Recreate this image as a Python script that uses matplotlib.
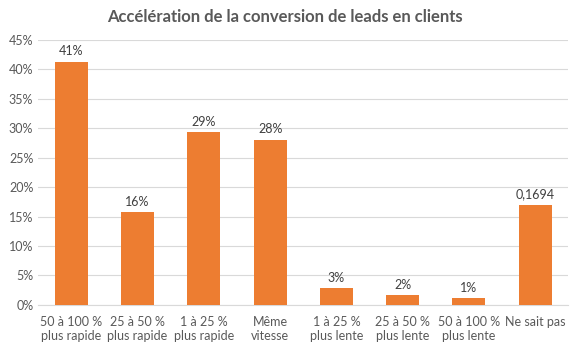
import matplotlib
matplotlib.use('Agg')
import matplotlib.pyplot as plt
from matplotlib.ticker import FuncFormatter

plt.rcParams['font.family'] = ['Lato', 'DejaVu Sans']

categories = ['50 à 100 %\nplus rapide', '25 à 50 %\nplus rapide', '1 à 25 %\nplus rapide',
              'Même\nvitesse', '1 à 25 %\nplus lente', '25 à 50 %\nplus lente',
              '50 à 100 %\nplus lente', 'Ne sait pas']
values = [41.3, 15.7, 29.3, 28.0, 2.8, 1.6, 1.1, 16.94]
labels = ['41%', '16%', '29%', '28%', '3%', '2%', '1%', '0,1694']

grey = '#595959'
fig = plt.figure(figsize=(5.7, 3.48), dpi=100)
ax = fig.add_axes([0.067, 0.124, 0.93, 0.761])

x = range(len(categories))
bars = ax.bar(x, values, width=0.5, color='#ED7D31', zorder=3)
for b, lab in zip(bars, labels):
    ax.text(b.get_x() + b.get_width() / 2, b.get_height() + 0.8, lab,
            ha='center', va='bottom', fontsize=9, color='#404040')

ax.set_ylim(0, 45)
ax.set_yticks(range(0, 46, 5))
ax.yaxis.set_major_formatter(FuncFormatter(lambda v, p: '%d%%' % v))
ax.set_xlim(-0.5, len(categories) - 0.5)
ax.set_xticks(list(x))
ax.set_xticklabels(categories)
ax.tick_params(axis='both', length=0, labelsize=9, colors=grey)
ax.tick_params(axis='x', pad=8)
ax.grid(axis='y', color='#d9d9d9', linewidth=0.8, zorder=0)
for s in ['top', 'right', 'left']:
    ax.spines[s].set_visible(False)
ax.spines['bottom'].set_color('#d9d9d9')

fig.suptitle('Accélération de la conversion de leads en clients', x=0.5, y=0.975,
             fontsize=12, fontweight='bold', color=grey)

fig.savefig('out.png', dpi=100)
